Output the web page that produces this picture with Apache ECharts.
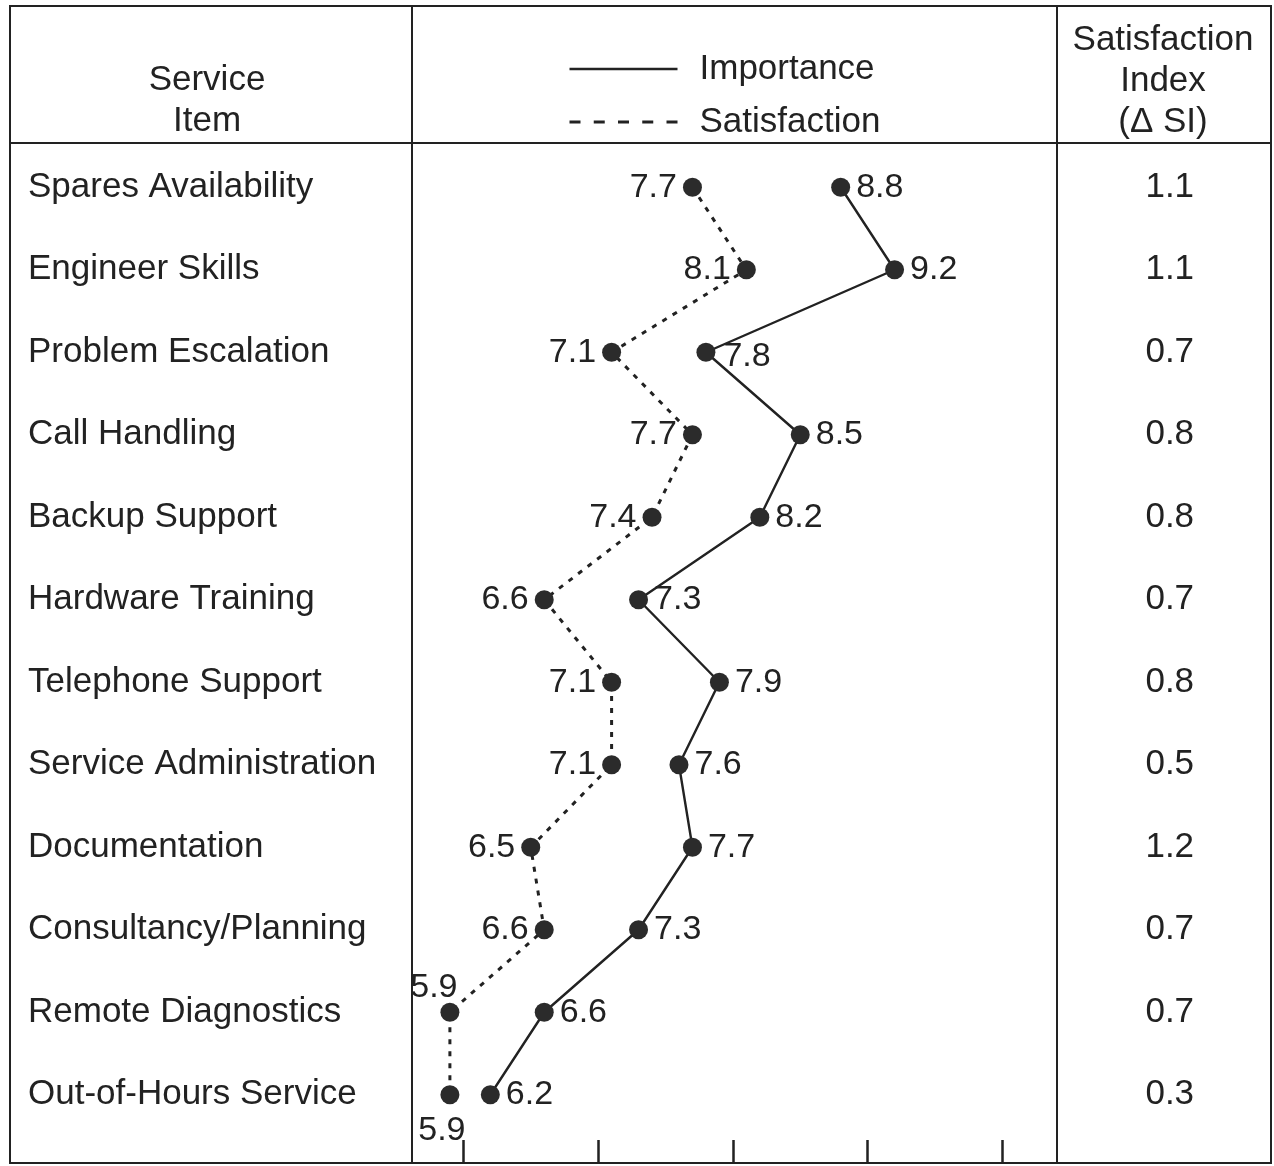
<!DOCTYPE html>
<html>
<head>
<meta charset="utf-8">
<script src="https://cdn.jsdelivr.net/npm/echarts@6/dist/echarts.min.js"></script>
<style>
html, body { margin: 0; padding: 0; background: #fff; }
#chart { width: 1274px; height: 1166px; }
</style>
</head>
<body>
<div id="chart"></div>
<script>
// service items, top to bottom
var items = ['Spares Availability', 'Engineer Skills', 'Problem Escalation', 'Call Handling',
  'Backup Support', 'Hardware Training', 'Telephone Support', 'Service Administration',
  'Documentation', 'Consultancy/Planning', 'Remote Diagnostics', 'Out-of-Hours Service'];
var importance = [8.8, 9.2, 7.8, 8.5, 8.2, 7.3, 7.9, 7.6, 7.7, 7.3, 6.6, 6.2];
var satisfaction = [7.7, 8.1, 7.1, 7.7, 7.4, 6.6, 7.1, 7.1, 6.5, 6.6, 5.9, 5.9];
var satIndex = ['1.1', '1.1', '0.7', '0.8', '0.8', '0.7', '0.8', '0.5', '1.2', '0.7', '0.7', '0.3'];
var scaleTicks = [6, 7, 8, 9, 10];

var FONT = '"Liberation Sans", Arial, Helvetica, sans-serif';
var INK = '#222';

// where the value labels sit: importance on the right, satisfaction on the left, a few nudged
var impLabel = importance.map(function (v, i) {
  if (i === 2) return { position: 'right', offset: [2, 4] };
  return { position: 'right' };
});
var satLabel = satisfaction.map(function (v, i) {
  if (i === 10) return { position: 'top', offset: [-16, 8] };
  if (i === 11) return { position: 'bottom', offset: [-8, 3] };
  return { position: 'left' };
});

function fmt(p) { return Number(p.value).toFixed(1); }

var myChart = echarts.init(document.getElementById('chart'));

var option = {
  backgroundColor: '#fff',
  animation: false,
  textStyle: { fontFamily: FONT, color: INK },
  grid: { left: 396, width: 673.75, top: 146, height: 990 },
  legend: {
    orient: 'vertical',
    left: 563,
    top: 46,
    itemWidth: 108,
    itemHeight: 14,
    itemGap: 17,
    selectedMode: false,
    itemStyle: { opacity: 0 },
    textStyle: { fontSize: 35, fontFamily: FONT, color: INK, lineHeight: 36, padding: [0, 0, 0, 17] },
    data: [
      { name: 'Importance', lineStyle: { width: 2.5, color: INK, type: 'solid', opacity: 1 } },
      { name: 'Satisfaction', lineStyle: { width: 3, color: INK, type: [11, 13.25], opacity: 1 } }
    ]
  },
  xAxis: {
    type: 'value',
    min: 5.5,
    max: 10.5,
    offset: 4,
    axisLine: { show: false },
    axisTick: { show: true, customValues: scaleTicks, length: 23, lineStyle: { color: INK, width: 2.5 } },
    axisLabel: { show: false },
    splitLine: { show: false }
  },
  yAxis: [
    {
      type: 'category',
      data: items,
      inverse: true,
      axisLine: { show: false },
      axisTick: { show: false },
      axisLabel: { interval: 0, align: 'left', margin: 368, fontSize: 35, color: INK, fontFamily: FONT }
    },
    {
      type: 'category',
      data: satIndex,
      inverse: true,
      position: 'right',
      axisLine: { show: false },
      axisTick: { show: false },
      axisLabel: { interval: 0, align: 'center', margin: 100, fontSize: 35, color: INK, fontFamily: FONT }
    }
  ],
  series: [
    {
      name: 'Importance',
      type: 'line',
      data: importance.map(function (v, i) { return { value: v, label: impLabel[i] }; }),
      symbol: 'circle',
      symbolSize: 19,
      itemStyle: { color: '#2b2b2b' },
      lineStyle: { color: INK, width: 2.4 },
      label: { show: true, position: 'right', distance: 6, fontSize: 34, color: INK, fontFamily: FONT, formatter: fmt },
      emphasis: { disabled: true },
      z: 3
    },
    {
      name: 'Satisfaction',
      type: 'line',
      data: satisfaction.map(function (v, i) { return { value: v, label: satLabel[i] }; }),
      symbol: 'circle',
      symbolSize: 19,
      itemStyle: { color: '#2b2b2b' },
      lineStyle: { color: INK, width: 3, type: [5, 7] },
      label: { show: true, position: 'left', distance: 6, fontSize: 34, color: INK, fontFamily: FONT, formatter: fmt },
      emphasis: { disabled: true },
      z: 3
    }
  ],
  graphic: [
    { type: 'rect', silent: true, shape: { x: 10, y: 6, width: 1261, height: 1157 }, style: { fill: null, stroke: INK, lineWidth: 2 } },
    { type: 'line', silent: true, shape: { x1: 10, y1: 143, x2: 1271, y2: 143 }, style: { stroke: INK, lineWidth: 2 } },
    { type: 'line', silent: true, shape: { x1: 412, y1: 6, x2: 412, y2: 1163 }, style: { stroke: INK, lineWidth: 2 } },
    { type: 'line', silent: true, shape: { x1: 1057, y1: 6, x2: 1057, y2: 1163 }, style: { stroke: INK, lineWidth: 2 } },
    { type: 'text', silent: true, x: 207, y: 100.5,
      style: { text: 'Service\nItem', align: 'center', verticalAlign: 'middle', lineHeight: 41, font: '35px ' + FONT, fill: INK } },
    { type: 'text', silent: true, x: 1163, y: 81,
      style: { text: 'Satisfaction\nIndex\n(\u0394 SI)', align: 'center', verticalAlign: 'middle', lineHeight: 41, font: '35px ' + FONT, fill: INK } }
  ]
};

myChart.setOption(option);
window.addEventListener('resize', function () { myChart.resize(); });
</script>
</body>
</html>
